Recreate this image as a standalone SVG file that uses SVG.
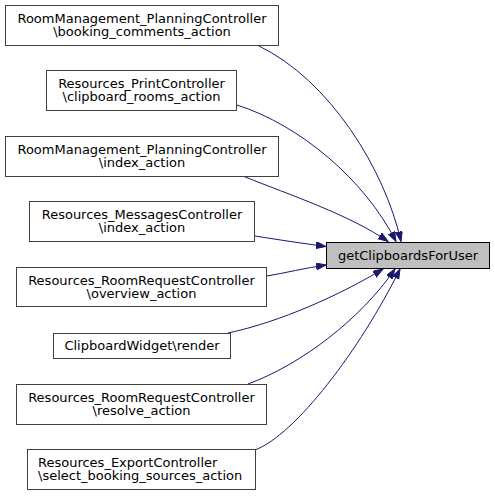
<svg xmlns="http://www.w3.org/2000/svg" width="495" height="496" viewBox="0 0 495 496">
<style>
.node rect{fill:#ffffff;stroke:#404040;stroke-width:1}
.node.target rect{fill:#bfbfbf;stroke:#000000}
text{font-family:"DejaVu Sans",sans-serif;font-size:13px;fill:#000000}
.c{text-anchor:middle}
.edges path{fill:none;stroke:#191970;stroke-width:1;marker-end:url(#arr)}
</style>
<defs>
<marker id="arr" markerUnits="userSpaceOnUse" markerWidth="11" markerHeight="8" refX="10" refY="3.5" orient="auto">
<path d="M0,0 L10,3.5 L0,7 z" fill="#191970" stroke="#191970" stroke-width="1"/>
</marker>
</defs>
<rect width="495" height="496" fill="#ffffff"/>
<g class="edges" id="edges">
<path d="M258,45.5 C330,80 385,170 401,241.5"/>
<path d="M237,105 C300,125 365,180 396,241.5"/>
<path d="M244,176.5 C290,195 350,215 388,241.5"/>
<path d="M255,236 C280,240 300,243 326,246.5"/>
<path d="M267,276 C285,273 305,268 326,265"/>
<path d="M228,333 C280,322 340,295 383,269"/>
<path d="M248,384 C300,365 360,320 395,269"/>
<path d="M255,450 C295,435 360,350 400,269"/>
</g>
<g class="node" id="n1">
<rect x="5.5" y="5.5" width="273" height="40"/>
<text class="c" x="142" y="23">RoomManagement_PlanningController</text>
<text class="c" x="142" y="36">\booking_comments_action</text>
</g>
<g class="node" id="n2">
<rect x="46.5" y="70.5" width="190" height="40"/>
<text class="c" x="141.5" y="88">Resources_PrintController</text>
<text class="c" x="141.5" y="101">\clipboard_rooms_action</text>
</g>
<g class="node" id="n3">
<rect x="5.5" y="136.5" width="273" height="40"/>
<text class="c" x="142" y="154">RoomManagement_PlanningController</text>
<text class="c" x="142" y="167">\index_action</text>
</g>
<g class="node" id="n4">
<rect x="29.5" y="201.5" width="225" height="40"/>
<text class="c" x="142" y="219">Resources_MessagesController</text>
<text class="c" x="142" y="232">\index_action</text>
</g>
<g class="node" id="n5">
<rect x="16.5" y="267.5" width="250" height="39"/>
<text class="c" x="141.5" y="284.5">Resources_RoomRequestController</text>
<text class="c" x="141.5" y="297.5">\overview_action</text>
</g>
<g class="node" id="n6">
<rect x="53.5" y="333.5" width="177" height="25"/>
<text class="c" x="142" y="350">ClipboardWidget\render</text>
</g>
<g class="node" id="n7">
<rect x="16.5" y="384.5" width="250" height="40"/>
<text class="c" x="141.5" y="402">Resources_RoomRequestController</text>
<text class="c" x="141.5" y="415">\resolve_action</text>
</g>
<g class="node" id="n8">
<rect x="27.5" y="449.5" width="228" height="40"/>
<text x="38" y="467">Resources_ExportController</text>
<text x="38" y="480">\select_booking_sources_action</text>
</g>
<g class="node target" id="target">
<rect x="326.5" y="242.5" width="163" height="26"/>
<text class="c" x="408" y="260">getClipboardsForUser</text>
</g>
</svg>
